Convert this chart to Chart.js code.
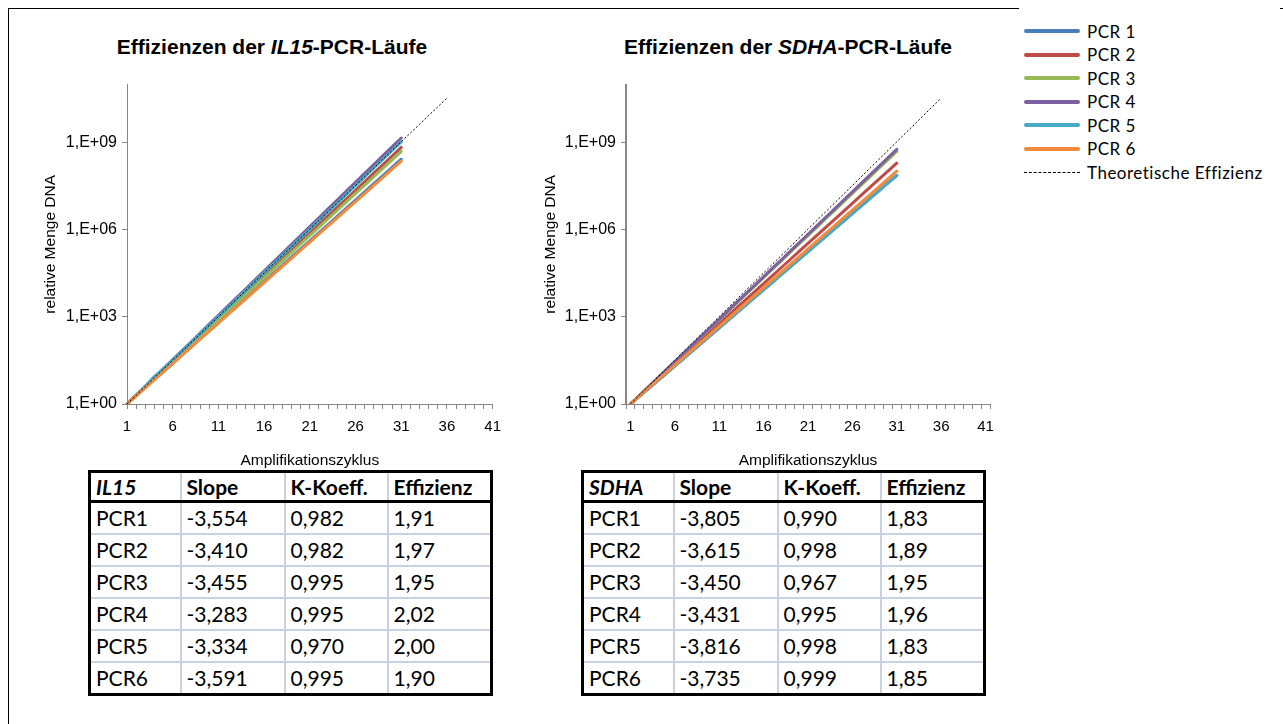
<!DOCTYPE html>
<html>
<head>
<meta charset="utf-8">
<script src="https://cdn.jsdelivr.net/npm/chart.js@4.4.1/dist/chart.umd.min.js"></script>
<style>
  body { margin: 0; background: #fff; width: 1283px; height: 724px; overflow: hidden; position: relative; font-family: "Liberation Sans", Arial, sans-serif; }
  #frame { position: absolute; left: 8px; top: 8px; width: 1400px; height: 800px; border-left: 1px solid #000; border-top: 1px solid #000; }
  .title { position: absolute; top: 35px; font-weight: bold; font-size: 21px; white-space: nowrap; transform: translateX(-50%); color: #000; }
  .box { position: absolute; top: 70px; width: 490px; height: 400px; }
  #legend { position: absolute; left: 1019px; top: 0; width: 261px; height: 190px; background: #fff; font-family: Lato, sans-serif; font-size: 17px; letter-spacing: 0.5px; color: #000; }
  .li { position: absolute; left: 5px; height: 24px; display: flex; align-items: center; white-space: nowrap; }
  .sw { width: 56px; height: 0; margin-right: 7px; }
  table { position: absolute; top: 470px; border-collapse: collapse; table-layout: fixed; font-family: Lato, sans-serif; font-size: 21px; border: 3px solid #000; color: #000; }
  td { border: 2px solid #c8d2e2; padding: 0 0 0 5px; height: 30px; line-height: 30px; white-space: nowrap; }
  tr.head td { font-weight: bold; border-bottom: 3px solid #000; height: 27px; line-height: 27px; }
</style>
</head>
<body>
<div id="frame"></div>
<div class="title" style="left:272px">Effizienzen der <i>IL15</i>-PCR-Läufe</div>
<div class="title" style="left:788px">Effizienzen der <i>SDHA</i>-PCR-Läufe</div>
<div class="box" style="left:20px"><canvas id="il15Chart" width="490" height="400"></canvas></div>
<div class="box" style="left:520px"><canvas id="sdhaChart" width="490" height="400"></canvas></div>
<div id="legend"></div>
<table id="il15Table" style="left:88px"></table>
<table id="sdhaTable" style="left:581px"></table>
<script>
const cycles = [1, 2, 3, 4, 5, 6, 7, 8, 9, 10, 11, 12, 13, 14, 15, 16, 17, 18, 19, 20,
  21, 22, 23, 24, 25, 26, 27, 28, 29, 30, 31, 32, 33, 34, 35, 36, 37, 38, 39, 40, 41];
const yTickValues = [1, 1e3, 1e6, 1e9];
const yTickLabels = ['1,E+00', '1,E+03', '1,E+06', '1,E+09'];

const seriesNames = ['PCR 1', 'PCR 2', 'PCR 3', 'PCR 4', 'PCR 5', 'PCR 6'];
const seriesColors = ['#4a7ebb', '#be4b48', '#98b954', '#7d60a0', '#46aac5', '#f38a3c'];
const theoName = 'Theoretische Effizienz';

// Theoretische Effizienz (Verdopplung pro Zyklus), Zyklus 1..36
const theoretical = [1, 2, 4, 8, 16, 32, 64, 128, 256, 512, 1024, 2048, 4096, 8192, 16384,
  32768, 65536, 131072, 262144, 524288, 1048576, 2097152, 4194304, 8388608, 16777216,
  33554432, 67108864, 134217728, 268435456, 536870912, 1073741824, 2147483648,
  4294967296, 8589934592, 17179869184, 34359738368];

// IL15, Zyklus 1..31
const il15Pcr1 = [1, 1.9, 3.7, 7.0, 13, 25, 49, 93, 177, 338, 646, 1230, 2360, 4500, 8600,
  1.64e4, 3.13e4, 5.98e4, 1.14e5, 2.18e5, 4.17e5, 7.96e5, 1.52e6, 2.90e6, 5.55e6, 1.06e7,
  2.02e7, 3.86e7, 7.38e7, 1.41e8, 2.69e8];
const il15Pcr2 = [1, 1.97, 3.88, 7.65, 15.1, 29.7, 58.5, 115, 227, 447, 881, 1740, 3420, 6740,
  1.33e4, 2.62e4, 5.15e4, 1.02e5, 2.00e5, 3.94e5, 7.76e5, 1.53e6, 3.01e6, 5.94e6, 1.17e7,
  2.30e7, 4.54e7, 8.94e7, 1.76e8, 3.47e8, 6.84e8];
const il15Pcr3 = [1, 1.95, 3.80, 7.41, 14.5, 28.2, 55.0, 107, 209, 407, 794, 1550, 3020, 5890,
  1.15e4, 2.24e4, 4.37e4, 8.51e4, 1.66e5, 3.24e5, 6.31e5, 1.23e6, 2.40e6, 4.68e6, 9.12e6,
  1.78e7, 3.47e7, 6.76e7, 1.32e8, 2.57e8, 5.01e8];
const il15Pcr4 = [1, 2.02, 4.08, 8.24, 16.7, 33.7, 68.0, 137, 277, 561, 1130, 2290, 4620, 9340,
  1.89e4, 3.81e4, 7.70e4, 1.56e5, 3.14e5, 6.35e5, 1.28e6, 2.59e6, 5.24e6, 1.06e7, 2.14e7,
  4.32e7, 8.72e7, 1.76e8, 3.56e8, 7.19e8, 1.45e9];
const il15Pcr5 = [1, 2.0, 4.1, 9.0, 16.5, 32, 65, 129, 258, 515, 1030, 2050, 4100, 8200,
  1.64e4, 3.28e4, 6.55e4, 1.31e5, 2.62e5, 5.24e5, 1.05e6, 2.10e6, 4.19e6, 8.39e6, 1.68e7,
  3.36e7, 6.71e7, 1.34e8, 2.68e8, 5.37e8, 1.07e9];
const il15Pcr6 = [1, 1.90, 3.61, 6.86, 13.0, 24.8, 47.0, 89.4, 170, 323, 614, 1170, 2220, 4210,
  8000, 1.52e4, 2.89e4, 5.49e4, 1.04e5, 1.98e5, 3.77e5, 7.16e5, 1.36e6, 2.58e6, 4.91e6,
  9.33e6, 1.77e7, 3.37e7, 6.40e7, 1.22e8, 2.31e8];

// SDHA, Zyklus 1..31
const sdhaPcr1 = [1, 1.83, 3.35, 6.13, 11.2, 20.5, 37.6, 68.8, 126, 230, 422, 772, 1410, 2590,
  4730, 8660, 1.58e4, 2.90e4, 5.31e4, 9.72e4, 1.78e5, 3.25e5, 5.96e5, 1.09e6, 2.00e6,
  3.65e6, 6.68e6, 1.22e7, 2.24e7, 4.10e7, 7.50e7];
const sdhaPcr2 = [1, 1.89, 3.57, 6.75, 12.8, 24.1, 45.6, 86.2, 163, 308, 582, 1100, 2080, 3930,
  7430, 1.40e4, 2.65e4, 5.02e4, 9.48e4, 1.79e5, 3.39e5, 6.40e5, 1.21e6, 2.29e6, 4.33e6,
  8.17e6, 1.55e7, 2.92e7, 5.52e7, 1.04e8, 1.97e8];
const sdhaPcr3 = [1, 1.95, 3.80, 7.41, 14.5, 28.2, 55.0, 107, 209, 407, 794, 1550, 3020, 5890,
  1.15e4, 2.24e4, 4.37e4, 8.51e4, 1.66e5, 3.24e5, 6.31e5, 1.23e6, 2.40e6, 4.68e6, 9.12e6,
  1.78e7, 3.47e7, 6.76e7, 1.32e8, 2.57e8, 5.01e8];
const sdhaPcr4 = [1, 1.96, 3.84, 7.53, 14.8, 28.9, 56.7, 111, 218, 427, 838, 1640, 3220, 6310,
  1.24e4, 2.42e4, 4.75e4, 9.31e4, 1.83e5, 3.58e5, 7.02e5, 1.37e6, 2.70e6, 5.28e6, 1.04e7,
  2.03e7, 3.98e7, 7.80e7, 1.53e8, 3.00e8, 5.87e8];
const sdhaPcr5 = [1, 1.82, 3.32, 6.05, 11.0, 20.1, 36.9, 67.5, 124, 226, 414, 758, 1390, 2550,
  4660, 8530, 1.56e4, 2.86e4, 5.23e4, 9.57e4, 1.75e5, 3.20e5, 5.86e5, 1.07e6, 1.96e6,
  3.59e6, 6.57e6, 1.20e7, 2.20e7, 4.03e7, 7.38e7];
const sdhaPcr6 = [1, 1.85, 3.42, 6.33, 11.7, 21.7, 40.1, 74.2, 137, 254, 470, 869, 1610, 2980,
  5510, 1.02e4, 1.89e4, 3.49e4, 6.45e4, 1.19e5, 2.21e5, 4.09e5, 7.56e5, 1.40e6, 2.59e6,
  4.79e6, 8.86e6, 1.64e7, 3.03e7, 5.61e7, 1.04e8];

// Tabellen
const tableHeader = ['Slope', 'K-Koeff.', 'Effizienz'];
const runLabels = ['PCR1', 'PCR2', 'PCR3', 'PCR4', 'PCR5', 'PCR6'];
const il15Slope = ['-3,554', '-3,410', '-3,455', '-3,283', '-3,334', '-3,591'];
const il15Koeff = ['0,982', '0,982', '0,995', '0,995', '0,970', '0,995'];
const il15Eff = ['1,91', '1,97', '1,95', '2,02', '2,00', '1,90'];
const sdhaSlope = ['-3,805', '-3,615', '-3,450', '-3,431', '-3,816', '-3,735'];
const sdhaKoeff = ['0,990', '0,998', '0,967', '0,995', '0,998', '0,999'];
const sdhaEff = ['1,83', '1,89', '1,95', '1,96', '1,83', '1,85'];

const colWidths = [91, 104, 103, 104];

const makeChart = (id, series, offsetAxis, yAxisWidth, padRight, yBorderWidth) => {
  const datasets = series.map((data, i) => ({
    label: seriesNames[i],
    data: data,
    borderColor: seriesColors[i],
    borderWidth: 3,
    borderCapStyle: 'round',
    borderJoinStyle: 'round',
    order: series.length - i
  }));
  datasets.push({
    label: theoName,
    data: theoretical,
    borderColor: '#000',
    borderWidth: 1,
    borderDash: [2, 2],
    order: 0
  });

  return new Chart(document.getElementById(id), {
    type: 'line',
    data: { labels: cycles, datasets: datasets },
    options: {
      responsive: false,
      animation: false,
      layout: { padding: { top: 8, right: padRight, bottom: 0, left: 0 } },
      plugins: { legend: { display: false }, tooltip: { enabled: false } },
      elements: { point: { radius: 0 }, line: { tension: 0 } },
      scales: {
        x: {
          type: 'category',
          offset: offsetAxis,
          grid: { offset: offsetAxis, drawOnChartArea: false, tickLength: 5, color: '#868686' },
          border: { color: '#868686', width: 1 },
          ticks: {
            autoSkip: false, maxRotation: 0, padding: 9, color: '#000',
            font: { family: 'Liberation Sans', size: 15 },
            callback: (v, i) => (i % 5 === 0 ? String(cycles[i]) : '')
          },
          title: {
            display: true, text: 'Amplifikationszyklus', color: '#000',
            font: { family: 'Liberation Sans', size: 15.5 }, padding: { top: 9.7, bottom: 0 }
          },
          afterFit: s => { s.height = 66; }
        },
        y: {
          type: 'logarithmic',
          min: 1,
          max: 1e11,
          afterBuildTicks: s => { s.ticks = yTickValues.map(v => ({ value: v })); },
          grid: { drawOnChartArea: false, tickLength: 5, color: '#868686' },
          border: { color: '#868686', width: yBorderWidth },
          ticks: {
            autoSkip: false, padding: 5, color: '#000',
            font: { family: 'Liberation Sans', size: 16 },
            callback: v => {
              const idx = yTickValues.indexOf(v);
              return idx >= 0 ? yTickLabels[idx] : '';
            }
          },
          title: {
            display: true, text: 'relative Menge DNA', color: '#000',
            font: { family: 'Liberation Sans', size: 15.5 }, padding: { top: 21.4, bottom: 0 }
          },
          afterFit: s => { s.width = yAxisWidth; }
        }
      }
    }
  });
};

makeChart('il15Chart', [il15Pcr1, il15Pcr2, il15Pcr3, il15Pcr4, il15Pcr5, il15Pcr6], false, 107, 17, 1);
makeChart('sdhaChart', [sdhaPcr1, sdhaPcr2, sdhaPcr3, sdhaPcr4, sdhaPcr5, sdhaPcr6], true, 106, 20, 2);

// Legende
const legend = document.getElementById('legend');
seriesNames.concat([theoName]).forEach((name, i) => {
  const item = document.createElement('div');
  item.className = 'li';
  item.style.top = (19 + i * 23.5) + 'px';
  const sw = document.createElement('div');
  sw.className = 'sw';
  if (i < seriesNames.length) {
    sw.style.borderTop = '4px solid ' + seriesColors[i];
    sw.style.borderRadius = '2px';
  } else {
    sw.style.borderTop = '1px dashed #000';
  }
  item.appendChild(sw);
  item.appendChild(document.createTextNode(name));
  legend.appendChild(item);
});

// Tabellen
const fillTable = (id, gene, slope, koeff, eff) => {
  const table = document.getElementById(id);
  const colgroup = document.createElement('colgroup');
  colWidths.forEach(w => {
    const col = document.createElement('col');
    col.style.width = w + 'px';
    colgroup.appendChild(col);
  });
  table.appendChild(colgroup);
  const head = document.createElement('tr');
  head.className = 'head';
  [gene].concat(tableHeader).forEach((txt, i) => {
    const td = document.createElement('td');
    if (i === 0) {
      const it = document.createElement('i');
      it.textContent = txt;
      td.appendChild(it);
    } else {
      td.textContent = txt;
    }
    head.appendChild(td);
  });
  table.appendChild(head);
  runLabels.forEach((run, r) => {
    const tr = document.createElement('tr');
    [run, slope[r], koeff[r], eff[r]].forEach(txt => {
      const td = document.createElement('td');
      td.textContent = txt;
      tr.appendChild(td);
    });
    table.appendChild(tr);
  });
};

fillTable('il15Table', 'IL15', il15Slope, il15Koeff, il15Eff);
fillTable('sdhaTable', 'SDHA', sdhaSlope, sdhaKoeff, sdhaEff);
</script>
</body>
</html>
